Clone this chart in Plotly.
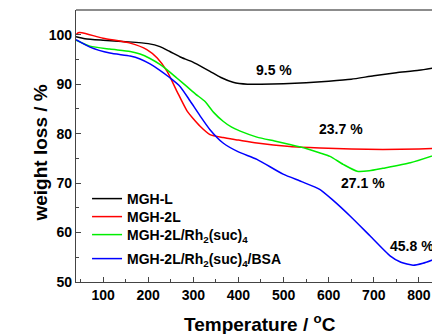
import plotly.graph_objects as go

# ---- data ----
T_L = [40, 60, 100, 150, 200, 226, 248, 271, 293, 315, 337, 360, 388, 420, 450, 500, 550, 600, 650, 700, 750, 800, 840]
W_L = [99.6, 99.2, 98.9, 98.6, 98.2, 97.6, 96.6, 95.5, 94.7, 93.7, 92.6, 91.4, 90.4, 90.0, 90.0, 90.1, 90.3, 90.6, 91.0, 91.7, 92.3, 92.8, 93.4]

T_2L = [40, 45, 53, 100, 160, 197, 220, 242, 264, 286, 300, 315, 337, 366, 400, 441, 514, 581, 650, 720, 800, 840]
W_2L = [100.0, 100.4, 100.4, 99.3, 98.3, 97.0, 95.3, 92.6, 88.5, 84.6, 83.0, 81.5, 79.8, 79.2, 78.7, 78.1, 77.4, 77.1, 76.9, 76.8, 76.9, 77.0]

T_Rh = [40, 71, 115, 160, 182, 204, 226, 242, 264, 286, 305, 326, 345, 366, 385, 404, 441, 480, 514, 550, 581, 603, 632, 663, 690, 720, 781, 840]
W_Rh = [98.9, 97.7, 97.1, 96.6, 96.1, 95.2, 94.0, 92.9, 91.2, 89.5, 88.0, 86.5, 84.3, 82.5, 81.3, 80.5, 79.3, 78.5, 77.8, 77.0, 76.1, 75.4, 73.8, 72.4, 72.5, 73.0, 74.1, 75.8]

T_BSA = [40, 71, 115, 160, 182, 204, 226, 248, 271, 293, 315, 337, 366, 400, 441, 499, 540, 581, 610, 648, 692, 736, 760, 787, 809, 840]
W_BSA = [99.0, 97.5, 96.3, 95.7, 95.1, 94.1, 92.8, 91.3, 89.5, 86.6, 83.6, 80.8, 78.1, 76.3, 74.8, 71.8, 70.3, 68.7, 66.5, 63.3, 59.3, 55.3, 54.0, 53.4, 53.8, 54.8]

names = ["MGH-L", "MGH-2L", "MGH-2L/Rh<sub>2</sub>(suc)<sub>4</sub>", "MGH-2L/Rh<sub>2</sub>(suc)<sub>4</sub>/BSA"]
colors = ["#000000", "#ff0000", "#00ee00", "#0000ff"]
legend_rows_px = [199, 217, 235, 259]

labels = ["9.5 %", "23.7 %", "27.1 %", "45.8 %"]
label_T = [479, 627, 676, 785]
label_W = [92.9, 81.0, 70.1, 57.2]

FONT = "Liberation Sans, Arial, sans-serif"
PLOT_TOP, PLOT_BOTTOM = 10, 282

fig = go.Figure()
legend_ids = ["legend", "legend2", "legend3", "legend4"]
for T, W, n, c, lid in zip([T_L, T_2L, T_Rh, T_BSA], [W_L, W_2L, W_Rh, W_BSA], names, colors, legend_ids):
    fig.add_trace(go.Scatter(x=T, y=W, mode="lines", name=n, legend=lid,
                             line=dict(color=c, width=1.5, shape="spline", smoothing=0.6)))

for t, x, y in zip(labels, label_T, label_W):
    fig.add_annotation(x=x, y=y, text=t, showarrow=False,
                       font=dict(family=FONT, size=14, color="black", weight="bold"))

fig.add_annotation(xref="paper", yref="paper", x=-0.135, y=0.474, text="weight loss / %",
                   textangle=-90, showarrow=False,
                   font=dict(family=FONT, size=19, color="black", weight="bold"))
fig.add_annotation(xref="paper", yref="paper", x=0.517, y=-0.151, text="Temperature / <sup>o</sup>C",
                   showarrow=False, yanchor="middle",
                   font=dict(family=FONT, size=19, color="black", weight="bold"))

fig.add_shape(type="line", xref="paper", yref="paper", x0=0, x1=1, y0=1, y1=1,
              line=dict(color="#666666", width=1.3))

axis_common = dict(showgrid=False, zeroline=False, showline=True, linecolor="#444444", linewidth=1.3,
                   ticks="inside", ticklen=5, tickwidth=1.2, tickcolor="#444444",
                   tickfont=dict(family=FONT, size=14, color="black", weight="bold"))
fig.update_xaxes(range=[40, 829], tick0=0, dtick=100,
                 minor=dict(ticks="inside", ticklen=3, dtick=50, tick0=0, tickcolor="#444444"),
                 **axis_common)
fig.update_yaxes(range=[50, 105], tick0=0, dtick=10,
                 minor=dict(ticks="inside", ticklen=3, dtick=5, tick0=0, tickcolor="#444444"),
                 **axis_common)

layout_legends = {}
for lid, ypx in zip(legend_ids, legend_rows_px):
    layout_legends[lid] = dict(x=0.031, y=(PLOT_BOTTOM - ypx) / (PLOT_BOTTOM - PLOT_TOP),
                               xanchor="left", yanchor="middle", bgcolor="rgba(0,0,0,0)",
                               font=dict(family=FONT, size=14, color="black", weight="bold"),
                               itemwidth=30)

fig.update_layout(width=432, height=334, margin=dict(l=76, r=0, t=10, b=52),
                  plot_bgcolor="white", paper_bgcolor="white",
                  showlegend=True, **layout_legends)

fig.write_html("out.html")
